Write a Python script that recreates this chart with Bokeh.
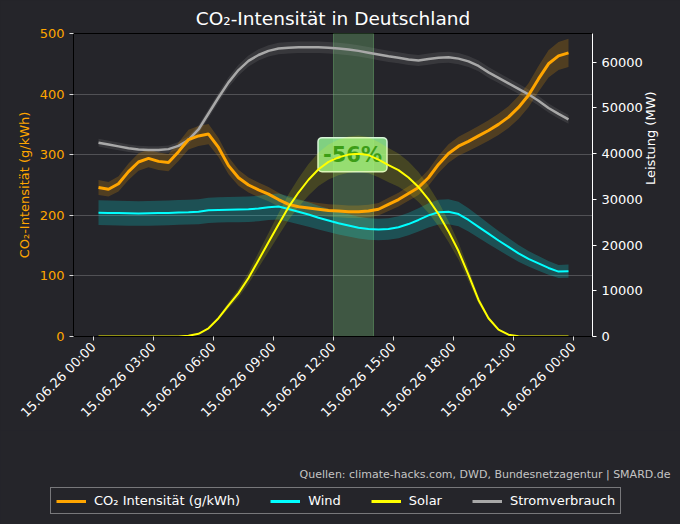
import numpy as np
from bokeh.plotting import figure
from bokeh.layouts import column
from bokeh.models import (Range1d, LinearAxis, BoxAnnotation, Label, Legend,
                          LegendItem, FixedTicker, Plot)
from bokeh.embed import file_html
from bokeh.resources import INLINE

# ---------------- data ----------------
hours = [0.25, 0.75, 1.25, 1.75, 2.25, 2.75, 3.25, 3.75, 4.25, 4.75, 5.25, 5.75,
         6.25, 6.75, 7.25, 7.75, 8.25, 8.75, 9.25, 9.75, 10.25, 10.75, 11.25, 11.75,
         12.25, 12.75, 13.25, 13.75, 14.25, 14.75, 15.25, 15.75, 16.25, 16.75, 17.25, 17.75,
         18.25, 18.75, 19.25, 19.75, 20.25, 20.75, 21.25, 21.75, 22.25, 22.75, 23.25, 23.75]

co2 = [246, 243, 252, 272, 288, 294, 289, 287, 305, 325, 331, 334,
       312, 282, 262, 250, 242, 235, 226, 218, 214, 212, 210, 208,
       207, 206, 206, 207, 210, 218, 226, 236, 246, 262, 284, 302,
       314, 322, 331, 340, 350, 362, 378, 398, 425, 450, 463, 468]

wind = [27100, 27050, 27000, 26950, 26900, 26950, 27000, 27050, 27150, 27200, 27300, 27600,
        27700, 27750, 27800, 27850, 28000, 28300, 28450, 27900, 27300, 26700, 26000, 25400,
        24800, 24300, 23800, 23500, 23400, 23500, 23900, 24600, 25500, 26500, 27200, 27300,
        26800, 25500, 24000, 22500, 21000, 19600, 18200, 17000, 16000, 15000, 14200, 14300]

solar = [0, 0, 0, 0, 0, 0, 0, 0, 0, 150, 600, 1800,
         4000, 6800, 9500, 12800, 16700, 20600, 24500, 28300, 31500, 34300, 36600, 38200,
         39200, 39800, 40000, 39700, 38700, 37500, 36400, 34800, 32700, 30000, 26800, 23000,
         18700, 13500, 8000, 4000, 1500, 400, 80, 0, 0, 0, 0, 0]

load = [42400, 42000, 41600, 41200, 40900, 40800, 40800, 41000, 41700, 43000, 45300, 48800,
        52300, 55600, 58300, 60300, 61600, 62500, 63000, 63200, 63300, 63300, 63300, 63200,
        63000, 62800, 62500, 62100, 61700, 61300, 61000, 60600, 60400, 60700, 61000, 61100,
        60800, 60200, 59200, 57800, 56600, 55400, 54200, 53000, 51600, 50000, 48700, 47500]

# relative uncertainty of each series (band half-width)
co2_unc = 0.05
wind_unc = 0.10
solar_unc = 0.10
load_unc = 0.02

tick_hours = [0, 3, 6, 9, 12, 15, 18, 21, 24]
tick_labels = ["15.06.26 00:00", "15.06.26 03:00", "15.06.26 06:00", "15.06.26 09:00",
               "15.06.26 12:00", "15.06.26 15:00", "15.06.26 18:00", "15.06.26 21:00",
               "16.06.26 00:00"]
highlight_start, highlight_end = 12.0, 14.0
highlight_text = "-56%"
highlight_pos = (12.95, 300)

series_names = ["CO₂ Intensität (g/kWh)", "Wind", "Solar", "Stromverbrauch"]
source_text = "Quellen: climate-hacks.com, DWD, Bundesnetzagentur | SMARD.de"

# ---------------- styling ----------------
BG = "#25252a"
FONT = "DejaVu Sans"
C_CO2, C_WIND, C_SOLAR, C_LOAD = "#ffa500", "#00ffff", "#ffff00", "#a8a8a8"
W = 680
HAS_FRAME_ALIGN = "frame_align" in Plot.properties()

p = figure(width=W, height=430, output_backend="svg", toolbar_location=None,
           x_range=Range1d(-1.0, 24.95), y_range=Range1d(0, 500),
           min_border_left=73, min_border_right=88, min_border_top=33,
           min_border_bottom=94)
p.extra_y_ranges = {"power": Range1d(0, 66300)}
if HAS_FRAME_ALIGN:
    p.frame_align = False

p.background_fill_color = BG
p.border_fill_color = BG
p.outline_line_color = "black"

p.title.text = "CO₂-Intensität in Deutschland"
p.title.align = "center"
p.title.text_color = "white"
p.title.text_font = FONT
p.title.text_font_size = "18.5px"
p.title.text_font_style = "normal"

p.xgrid.visible = False
p.ygrid.grid_line_color = "#5c5c60"
p.ygrid.grid_line_alpha = 0.8
p.ygrid.ticker = FixedTicker(ticks=[100, 200, 300, 400])

# x axis
xa = p.xaxis[0]
xa.ticker = FixedTicker(ticks=tick_hours)
xa.major_label_overrides = {h: l for h, l in zip(tick_hours, tick_labels)}
xa.major_label_orientation = np.pi / 4
xa.major_label_standoff = 4
xa.major_label_text_color = "white"
xa.major_label_text_font = FONT
xa.major_label_text_font_size = "13px"
xa.axis_line_color = "black"
xa.major_tick_line_color = "#dddddd"
xa.major_tick_in = 0
xa.major_tick_out = 4
xa.minor_tick_line_color = None

# left axis
ya = p.yaxis[0]
ya.ticker = FixedTicker(ticks=[0, 100, 200, 300, 400, 500])
ya.axis_label = "CO₂-Intensität (g/kWh)"
ya.axis_label_text_color = C_CO2
ya.axis_label_text_font = FONT
ya.axis_label_text_font_size = "13px"
ya.axis_label_text_font_style = "normal"
ya.major_label_text_color = C_CO2
ya.major_label_text_font = FONT
ya.major_label_text_font_size = "13px"
ya.axis_line_color = "black"
ya.major_tick_line_color = "#dddddd"
ya.major_tick_in = 0
ya.major_tick_out = 4
ya.minor_tick_line_color = None

# right axis
ra = LinearAxis(y_range_name="power", axis_label="Leistung (MW)",
                ticker=FixedTicker(ticks=[0, 10000, 20000, 30000, 40000, 50000, 60000]))
ra.axis_label_text_color = "white"
ra.axis_label_text_font = FONT
ra.axis_label_text_font_size = "13px"
ra.axis_label_text_font_style = "normal"
if "axis_label_orientation" in LinearAxis.properties():
    ra.axis_label_orientation = np.pi / 2
ra.major_label_text_color = "white"
ra.major_label_text_font = FONT
ra.major_label_text_font_size = "13px"
ra.axis_line_color = "white"
ra.major_tick_line_color = "white"
ra.major_tick_in = 0
ra.major_tick_out = 4
ra.minor_tick_line_color = None
p.add_layout(ra, "right")

# highlight band
p.add_layout(BoxAnnotation(left=highlight_start, right=highlight_end,
                           fill_color="#90ee90", fill_alpha=0.25,
                           line_color="#90ee90", line_alpha=0.3, level="underlay"))

# highlight label (below the lines, as in the reference)
p.add_layout(Label(x=highlight_pos[0], y=highlight_pos[1], text=highlight_text,
                   text_align="center", text_baseline="middle",
                   text_color="#1a8c1a", text_font=FONT, text_font_size="21px",
                   text_font_style="bold",
                   background_fill_color="#90ee90", background_fill_alpha=0.85,
                   border_line_color="#d8f5d8", border_line_width=1.5,
                   border_radius=4, padding=5, level="underlay"))

# uncertainty bands
def lo(v, f):
    return [x * (1 - f) for x in v]

def hi(v, f):
    return [x * (1 + f) for x in v]

p.varea(x=hours, y1=lo(load, load_unc), y2=hi(load, load_unc), y_range_name="power",
        fill_color=C_LOAD, fill_alpha=0.15)
p.varea(x=hours, y1=lo(co2, co2_unc), y2=hi(co2, co2_unc),
        fill_color=C_CO2, fill_alpha=0.2)
p.varea(x=hours, y1=lo(wind, wind_unc), y2=hi(wind, wind_unc), y_range_name="power",
        fill_color=C_WIND, fill_alpha=0.2)
p.varea(x=hours, y1=lo(solar, solar_unc), y2=hi(solar, solar_unc), y_range_name="power",
        fill_color=C_SOLAR, fill_alpha=0.15)

styles = [dict(line_color=C_CO2, line_width=3),
          dict(line_color=C_WIND, line_width=2),
          dict(line_color=C_SOLAR, line_width=2),
          dict(line_color=C_LOAD, line_width=2.5)]
series = [co2, wind, solar, load]

p.line(hours, load, y_range_name="power", **styles[3])
p.line(hours, co2, **styles[0])
p.line(hours, wind, y_range_name="power", **styles[1])
p.line(hours, solar, y_range_name="power", **styles[2])

# ---------------- footer: source text and legend ----------------
f = figure(width=W, height=94, output_backend="svg", toolbar_location=None,
           x_range=Range1d(0, W), y_range=Range1d(0, 94),
           x_axis_type=None, y_axis_type=None,
           min_border_left=0, min_border_right=0, min_border_top=0, min_border_bottom=0)
if HAS_FRAME_ALIGN:
    f.frame_align = False
f.background_fill_color = BG
f.border_fill_color = BG
f.outline_line_color = None
f.grid.visible = False

f.add_layout(Label(x=670, y=50, text=source_text, text_align="right",
                   text_baseline="alphabetic", text_color="#c4c4c4",
                   text_font=FONT, text_font_size="11px"))

# legend keys: hidden copies of the series (they carry the line styles)
key_styles = [dict(st, line_width=3) for st in styles]
key_renderers = [f.line(hours, s, visible=False, **st) for s, st in zip(series, key_styles)]
legend = Legend(items=[LegendItem(label=n, renderers=[r])
                       for n, r in zip(series_names, key_renderers)],
                location=(50, 10), orientation="horizontal",
                label_text_color="white", label_text_font=FONT,
                label_text_font_size="13px",
                background_fill_color=BG, background_fill_alpha=1.0,
                border_line_color="#cccccc", border_line_width=1.2,
                glyph_width=30, glyph_height=14, label_height=14,
                label_standoff=8, spacing=30, padding=5, margin=0,
                click_policy="none")
f.add_layout(legend, "center")

layout = column(p, f, spacing=0, styles={"background-color": BG})
open("out.html", "w").write(file_html(layout, INLINE))
